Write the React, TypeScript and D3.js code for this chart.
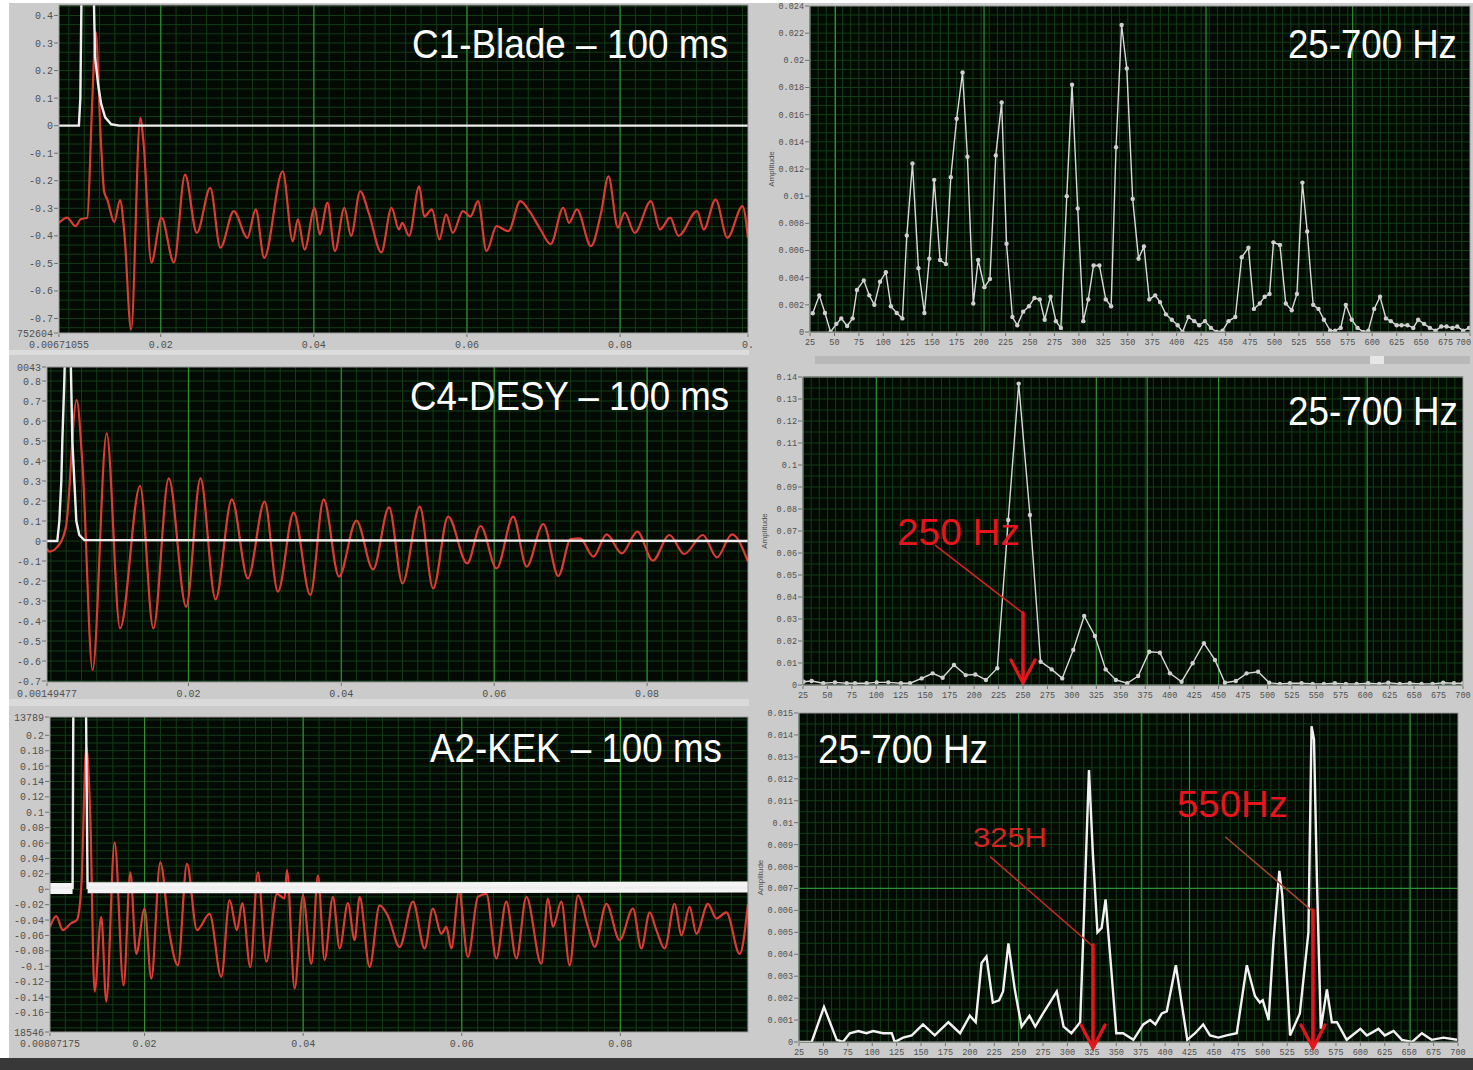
import * as d3 from 'd3';
import type { ReactNode } from 'react';

type Pt = [number, number];
type Tick = [number, string];

// ---------- time traces (s, V) ----------
const c1Trigger: Pt[] = [
  [0.00671, 0], [0.00931, 0], [0.0095, 0.1], [0.0097, 0.6], [0.01116, 0.6], [0.01142, 0.25],
  [0.01182, 0.15], [0.01221, 0.08], [0.01274, 0.03], [0.01353, 0.005], [0.01459, 0], [0.0967, 0],
];
const c1Response: Pt[] = [
  [0.00671, -0.353], [0.00776, -0.334], [0.00887, -0.365], [0.00953, -0.34], [0.0104, -0.334],
  [0.01106, 0.094], [0.01151, 0.34], [0.01217, -0.05], [0.01261, -0.24], [0.01304, -0.27],
  [0.01393, -0.35], [0.01468, -0.27], [0.01525, -0.39], [0.01613, -0.74], [0.01732, 0.028],
  [0.01776, -0.063], [0.01877, -0.497], [0.02009, -0.334], [0.02172, -0.497], [0.02317, -0.178],
  [0.02471, -0.389], [0.02647, -0.226], [0.02779, -0.443], [0.02954, -0.31], [0.03131, -0.407],
  [0.03241, -0.304], [0.03351, -0.48], [0.03593, -0.166], [0.03725, -0.42], [0.03791, -0.34],
  [0.03879, -0.45], [0.04011, -0.298], [0.04077, -0.395], [0.04178, -0.28], [0.04275, -0.455],
  [0.04399, -0.298], [0.04486, -0.4], [0.04605, -0.238], [0.04716, -0.316], [0.04882, -0.46],
  [0.05014, -0.298], [0.05112, -0.377], [0.05155, -0.353], [0.05244, -0.4], [0.05376, -0.22],
  [0.05442, -0.33], [0.05542, -0.304], [0.0564, -0.413], [0.05727, -0.322], [0.05815, -0.389],
  [0.05947, -0.31], [0.06044, -0.33], [0.06145, -0.274], [0.06255, -0.455], [0.06387, -0.365],
  [0.06541, -0.383], [0.06696, -0.274], [0.06828, -0.316], [0.0696, -0.377], [0.07092, -0.43],
  [0.07258, -0.298], [0.07333, -0.353], [0.07435, -0.304], [0.0762, -0.437], [0.07752, -0.316],
  [0.07848, -0.184], [0.07971, -0.37], [0.0806, -0.316], [0.08191, -0.389], [0.08403, -0.274],
  [0.08521, -0.377], [0.08654, -0.334], [0.08763, -0.4], [0.09006, -0.31], [0.09093, -0.377],
  [0.09248, -0.268], [0.09402, -0.407], [0.096, -0.292], [0.0967, -0.407],
];

const c4Trigger: Pt[] = [
  [0.00149, 0], [0.00284, 0], [0.00311, 0.1], [0.00337, 0.3], [0.0035, 0.5], [0.00376, 0.8],
  [0.00389, 1.0], [0.00455, 1.0], [0.00481, 0.5], [0.00507, 0.3], [0.00533, 0.1],
  [0.00572, 0.03], [0.00638, 0.005], [0.0932, 0],
];
const c4Response: Pt[] = [
  [0.00149, -0.037], [0.00179, -0.053], [0.00288, -0.028], [0.00398, 0.072], [0.00537, 0.705],
  [0.00615, 0.372], [0.00746, -0.645], [0.0093, 0.538], [0.01105, -0.437], [0.01367, 0.275],
  [0.01541, -0.437], [0.01742, 0.313], [0.0197, -0.328], [0.02157, 0.313], [0.02354, -0.292],
  [0.02567, 0.208], [0.02777, -0.187], [0.02996, 0.197], [0.0317, -0.253], [0.03376, 0.142],
  [0.03594, -0.27], [0.03769, 0.208], [0.03969, -0.178], [0.04197, 0.102], [0.04415, -0.142],
  [0.04624, 0.168], [0.048, -0.212], [0.05026, 0.172], [0.05201, -0.237], [0.05397, 0.122],
  [0.05646, -0.112], [0.05822, 0.075], [0.06031, -0.137], [0.06249, 0.122], [0.06424, -0.128],
  [0.06642, 0.085], [0.06838, -0.175], [0.07001, 0.01], [0.07123, 0.013], [0.07297, -0.078],
  [0.07472, 0.033], [0.07669, -0.062], [0.07873, 0.047], [0.08075, -0.098], [0.08292, 0.03],
  [0.08485, -0.065], [0.0873, 0.03], [0.08913, -0.082], [0.0911, 0.033], [0.0932, -0.103],
];

const a2Trigger: Pt[] = [
  [0.00807, 0.002], [0.01092, 0.002], [0.01104, 0.3], [0.01256, 0.3], [0.01281, 0.002], [0.0961, 0.002],
];
// noisy baseline of the trigger channel, drawn as a wide band
const a2Band: Pt[][] = [
  [[0.00807, 0.001], [0.01092, 0.001]],
  [[0.01281, 0.002], [0.05, 0.002], [0.0961, 0.003]],
];
const a2Response: Pt[] = [
  [0.00807, -0.049], [0.00886, -0.035], [0.00969, -0.053], [0.01075, -0.044], [0.01146, -0.04],
  [0.01202, 0.003], [0.01265, 0.185], [0.01315, 0.094], [0.01369, -0.133], [0.01454, -0.036],
  [0.01517, -0.146], [0.01622, 0.061], [0.01735, -0.125], [0.0182, 0.022], [0.01895, -0.084],
  [0.02, -0.025], [0.02085, -0.116], [0.02198, 0.035], [0.02315, -0.058], [0.0242, -0.099],
  [0.02534, 0.033], [0.0266, -0.053], [0.0282, -0.032], [0.02967, -0.114], [0.03072, -0.014],
  [0.03164, -0.053], [0.03232, -0.018], [0.03333, -0.101], [0.03429, 0.022], [0.03535, -0.094],
  [0.03669, -0.006], [0.03766, -0.012], [0.03795, 0.025], [0.03892, -0.129], [0.03997, -0.008],
  [0.04103, -0.097], [0.04186, 0.018], [0.0427, -0.092], [0.04375, -0.01], [0.0446, -0.077],
  [0.04564, -0.018], [0.04649, -0.066], [0.04712, -0.01], [0.04838, -0.101], [0.04964, -0.021],
  [0.0507, -0.035], [0.05216, -0.075], [0.05384, -0.016], [0.05532, -0.077], [0.05636, -0.025],
  [0.05742, -0.058], [0.05806, -0.049], [0.05869, -0.077], [0.05964, -0.003], [0.06078, -0.088],
  [0.06204, -0.01], [0.0631, -0.006], [0.06436, -0.09], [0.06562, -0.016], [0.06689, -0.09],
  [0.06815, -0.01], [0.07004, -0.097], [0.07087, -0.012], [0.0715, -0.049], [0.07256, -0.016],
  [0.07361, -0.099], [0.07465, -0.008], [0.07592, -0.049], [0.07676, -0.075], [0.07824, -0.019],
  [0.07991, -0.066], [0.08159, -0.025], [0.08265, -0.077], [0.0837, -0.03], [0.08454, -0.053],
  [0.08559, -0.077], [0.08685, -0.019], [0.0877, -0.06], [0.08874, -0.023], [0.08959, -0.058],
  [0.09105, -0.019], [0.09211, -0.038], [0.09337, -0.03], [0.09505, -0.084], [0.0961, -0.019],
];

// ---------- spectra (Hz, amplitude) ----------
const c1Spectrum: Pt[] = [
  [27.8, 0.00138], [34.5, 0.0027], [40.3, 0.0014], [46, 0], [52, 0.0006], [57, 0.001], [63, 0.00044],
  [68.6, 0.001], [73, 0.0031], [80, 0.0038], [85.6, 0.0027], [90.8, 0.002], [96.6, 0.0037],
  [102.6, 0.0044], [107.7, 0.0019], [113.7, 0.0014], [119.5, 0.001], [124, 0.0071], [129.8, 0.0124],
  [135.9, 0.0047], [142, 0.0014], [147, 0.0054], [152, 0.0112], [158, 0.0053], [164, 0.005],
  [169, 0.0114], [175, 0.0157], [181, 0.0191], [186, 0.0129], [192, 0.0021], [197, 0.0053],
  [203.4, 0.0033], [209, 0.0039], [215, 0.013], [221, 0.0169], [226, 0.0065], [232, 0.0011],
  [237, 0.0005], [243, 0.0015], [249, 0.0019], [254.5, 0.0025], [260, 0.0024], [265, 0.0009],
  [271, 0.0026], [276.5, 0.0008], [281.6, 0.0003], [287.6, 0.01], [293, 0.0182], [298.8, 0.0091],
  [304.5, 0.0008], [309.6, 0.0024], [315, 0.0049], [321, 0.0049], [327.5, 0.0024], [333, 0.0019],
  [338, 0.0136], [343.7, 0.0226], [349, 0.0194], [355, 0.0098], [361, 0.0054], [366.5, 0.0063],
  [372, 0.0024], [378, 0.0027], [383, 0.0022], [389, 0.0013], [395, 0.0009], [401, 0.0005],
  [406, 0], [412, 0.0011], [418, 0.0008], [423, 0.0005], [429, 0.0008], [435, 0.0003], [441, 0],
  [447, 0.0001], [453, 0.0008], [460, 0.0011], [466.5, 0.0055], [473.4, 0.0062], [479, 0.0017],
  [485, 0.0021], [490, 0.0026], [495, 0.0028], [499, 0.0066], [505.6, 0.0064], [511.6, 0.0021],
  [517.7, 0.0016], [523, 0.0028], [528.6, 0.011], [533.5, 0.0074], [539.6, 0.002], [545, 0.0017],
  [550.6, 0.0009], [557, 0.0001], [562, 0.0001], [567.8, 0.0003], [573, 0.002], [579, 0.0009],
  [585, 0.0003], [591, 0], [596, 0.0001], [602, 0.0017], [608, 0.0026], [614, 0.001], [619, 0.0008],
  [625, 0.0005], [630, 0.0005], [636, 0.0005], [642, 0.0003], [647, 0.0009], [653, 0.0006],
  [659, 0.0003], [664.8, 0.0001], [670.6, 0.0004], [676, 0.0004], [682, 0.0003], [687, 0.0004],
  [693, 0.0001], [699, 0.0003],
];

const c4Spectrum: Pt[] = [
  [25.5, 0.0015], [33.9, 0.0018], [45.8, 0.0008], [57.7, 0.0012], [69.7, 0.0008], [78.2, 0.0008],
  [90.1, 0.0008], [100.4, 0.0012], [112.2, 0.0012], [125.2, 0.0008], [134.4, 0.0008], [146.4, 0.003],
  [157.6, 0.0053], [167.8, 0.0033], [179.4, 0.0091], [191.4, 0.0045], [201.2, 0.0048],
  [212.1, 0.0023], [223.7, 0.0076], [234.9, 0.075], [245.6, 0.137], [257.1, 0.0773], [268, 0.0106],
  [279.3, 0.0071], [290.1, 0.003], [301.4, 0.0159], [312.6, 0.0314], [323.6, 0.0223],
  [334.5, 0.0071], [345, 0.0023], [356.6, 0.0008], [367.8, 0.0041], [379.1, 0.0151], [390, 0.0147],
  [400.3, 0.0053], [412.2, 0.0015], [423.5, 0.0099], [435, 0.019], [446.3, 0.0114], [456.5, 0.001],
  [467.7, 0.0018], [478.7, 0.0053], [490.5, 0.006], [501.8, 0.001], [512.7, 0.0005], [523, 0.0008],
  [534.9, 0.0008], [546.2, 0.0005], [557.7, 0.0005], [569, 0.0008], [580.2, 0.0005], [591.2, 0.0005],
  [603, 0.0008], [614.3, 0.0005], [623.5, 0.001], [635.4, 0.0005], [645.6, 0.0008], [657.6, 0.0005],
  [668.9, 0.0005], [679.7, 0.001], [690.7, 0.0008], [700, 0.0008],
];

const a2Spectrum: Pt[] = [
  [25, 0], [38, 0], [50.6, 0.0016], [63.6, 0.0001], [70, 0], [77, 0.0004], [85.8, 0.0005], [94, 0.0004],
  [101, 0.0005], [111, 0.0004], [120, 0.0004], [123, 0], [131.6, 0.0002], [140.5, 0.0003],
  [152, 0.0008], [164, 0.0003], [178, 0.0009], [190, 0.0004], [200, 0.0012], [206, 0.0009],
  [212, 0.0036], [217, 0.0039], [223.5, 0.0018], [230, 0.0019], [234, 0.0023], [239.5, 0.0045],
  [246, 0.0024], [253, 0.0007], [261, 0.0012], [267, 0.0007], [275, 0.0013], [289, 0.0023],
  [296, 0.0007], [304, 0.0004], [313, 0.0009], [316, 0.0046], [322, 0.0124], [326, 0.0086],
  [330.7, 0.005], [335, 0.0052], [339, 0.0065], [343.6, 0.004], [350, 0.0004], [357, 0.0004],
  [367.5, 0.0001], [377.7, 0.0008], [384.6, 0.001], [390, 0.0008], [396.6, 0.0013], [401.7, 0.0014],
  [411, 0.0035], [422.7, 0.0001], [430.7, 0.0004], [439, 0.0008], [446, 0.0003], [454.6, 0.0002],
  [463, 0.0003], [473.4, 0.0004], [483.7, 0.0035], [492, 0.0021], [497, 0.0018], [500, 0.0019],
  [506, 0.001], [511, 0.0046], [517, 0.0078], [520, 0.0067], [523, 0.0044], [528, 0.0003],
  [538, 0.0013], [546.8, 0.005], [550, 0.0144], [552.5, 0.0138], [555.5, 0.0074], [559.5, 0.0006],
  [565.7, 0.0024], [570.8, 0.0009], [576, 0.0009], [586, 0.0001], [600, 0.0006], [606.6, 0.0003],
  [618.5, 0.0006], [625, 0.0003], [634, 0.0005], [642.5, 0.0001], [653, 0], [663, 0.0004],
  [673, 0.0001], [685, 0.0002], [699, 0.0001],
];

// ---------- axes ----------
const freqTicks = [25, 50, 75, 100, 125, 150, 175, 200, 225, 250, 275, 300, 325, 350, 375, 400, 425,
  450, 475, 500, 525, 550, 575, 600, 625, 650, 675, 700];
const c1XTicks: Tick[] = [[0.00671055, '0.00671055'], [0.02, '0.02'], [0.04, '0.04'], [0.06, '0.06'], [0.08, '0.08'], [0.09671055, '0.']];
const c4XTicks: Tick[] = [[0.00149477, '0.00149477'], [0.02, '0.02'], [0.04, '0.04'], [0.06, '0.06'], [0.08, '0.08']];
const a2XTicks: Tick[] = [[0.00807175, '0.00807175'], [0.02, '0.02'], [0.04, '0.04'], [0.06, '0.06'], [0.08, '0.08']];
const c1YTicks = [0.4, 0.3, 0.2, 0.1, 0, -0.1, -0.2, -0.3, -0.4, -0.5, -0.6, -0.7];
const c4YTicks = [0.8, 0.7, 0.6, 0.5, 0.4, 0.3, 0.2, 0.1, 0, -0.1, -0.2, -0.3, -0.4, -0.5, -0.6, -0.7];
const a2YTicks = [0.2, 0.18, 0.16, 0.14, 0.12, 0.1, 0.08, 0.06, 0.04, 0.02, 0, -0.02, -0.04, -0.06, -0.08, -0.1, -0.12, -0.14, -0.16];
const c1SpecYTicks = [0.024, 0.022, 0.02, 0.018, 0.016, 0.014, 0.012, 0.01, 0.008, 0.006, 0.004, 0.002, 0];
const c4SpecYTicks = [0.14, 0.13, 0.12, 0.11, 0.1, 0.09, 0.08, 0.07, 0.06, 0.05, 0.04, 0.03, 0.02, 0.01, 0];
const a2SpecYTicks = [0.015, 0.014, 0.013, 0.012, 0.011, 0.01, 0.009, 0.008, 0.007, 0.006, 0.005, 0.004, 0.003, 0.002, 0.001, 0];
// end-of-scale labels, only the visible tail of them shows in the frame
const c1YEdge: Tick[] = [[-0.752604, '752604']];
const c4YEdge: Tick[] = [[0.87, '0043']];
const a2YEdge: Tick[] = [[-0.18546, '18546'], [0.223789, '13789']];

interface Frame { left: number; top: number; right: number; bottom: number }
interface PanelDef {
  id: string;
  frame: Frame;
  xDomain: [number, number];
  yDomain: [number, number];
  xTicks: Tick[];
  yTicks: Tick[];
  xMinor: number;
  yMinor: number;
  xMajor: number[];
  yMajor: number[];
  tickFont: number;
}

const fmt = (v: number) => String(+v.toFixed(4));
const ticks = (vals: number[]): Tick[] => vals.map(v => [v, fmt(v)]);

const panels: Record<string, PanelDef> = {
  c1: {
    id: 'c1', frame: { left: 59, top: 5, right: 748, bottom: 333 },
    xDomain: [0.00671055, 0.09671055], yDomain: [-0.752604, 0.438],
    xTicks: c1XTicks, yTicks: [...ticks(c1YTicks), ...c1YEdge],
    xMinor: 0.002, yMinor: 0.1 / 3, xMajor: [0.02, 0.04, 0.06, 0.08], yMajor: [], tickFont: 10,
  },
  c4: {
    id: 'c4', frame: { left: 47, top: 367, right: 748, bottom: 682 },
    xDomain: [0.00149477, 0.0932], yDomain: [-0.705, 0.87],
    xTicks: c4XTicks, yTicks: [...ticks(c4YTicks), ...c4YEdge],
    xMinor: 0.002, yMinor: 0.05, xMajor: [0.02, 0.04, 0.06, 0.08], yMajor: [], tickFont: 10,
  },
  a2: {
    id: 'a2', frame: { left: 50, top: 717, right: 748, bottom: 1032 },
    xDomain: [0.00807175, 0.0961], yDomain: [-0.18546, 0.223789],
    xTicks: a2XTicks, yTicks: [...ticks(a2YTicks), ...a2YEdge],
    xMinor: 0.002, yMinor: 0.01, xMajor: [0.02, 0.04, 0.06, 0.08], yMajor: [], tickFont: 10,
  },
  s1: {
    id: 's1', frame: { left: 810, top: 6, right: 1470, bottom: 332 },
    xDomain: [25, 700], yDomain: [0, 0.024],
    xTicks: ticks(freqTicks), yTicks: ticks(c1SpecYTicks),
    xMinor: 25 / 3, yMinor: 0.002 / 3, xMajor: [51, 203, 430, 580], yMajor: [], tickFont: 8.5,
  },
  s4: {
    id: 's4', frame: { left: 803, top: 377, right: 1463, bottom: 685 },
    xDomain: [25, 700], yDomain: [0, 0.14],
    xTicks: ticks(freqTicks), yTicks: ticks(c4SpecYTicks),
    xMinor: 25 / 3, yMinor: 0.005, xMajor: [100, 325, 377, 450, 602], yMajor: [], tickFont: 8.5,
  },
  s2: {
    id: 's2', frame: { left: 799, top: 713, right: 1458, bottom: 1042 },
    xDomain: [25, 700], yDomain: [0, 0.015],
    xTicks: ticks(freqTicks), yTicks: ticks(a2SpecYTicks),
    xMinor: 25 / 3, yMinor: 0.0005, xMajor: [250, 376, 425, 651], yMajor: [0.007], tickFont: 8.5,
  },
};

type Sc = d3.ScaleLinear<number, number>;

function Panel({ def, children }: { def: PanelDef; children: (x: Sc, y: Sc) => ReactNode }) {
  const f = def.frame;
  const x = d3.scaleLinear().domain(def.xDomain).range([f.left, f.right]);
  const y = d3.scaleLinear().domain(def.yDomain).range([f.bottom, f.top]);
  const xm = d3.range(Math.ceil(def.xDomain[0] / def.xMinor) * def.xMinor, def.xDomain[1], def.xMinor);
  const ym = d3.range(Math.ceil(def.yDomain[0] / def.yMinor) * def.yMinor, def.yDomain[1], def.yMinor);
  const isTime = def.tickFont === 10;
  const charW = def.tickFont * 0.6;
  return (
    <g>
      <defs>
        <clipPath id={def.id + '-clip'}>
          <rect x={f.left} y={f.top} width={f.right - f.left} height={f.bottom - f.top} />
        </clipPath>
      </defs>
      <rect x={f.left} y={f.top} width={f.right - f.left} height={f.bottom - f.top} fill="#020a03" />
      <g stroke="#123d16" strokeWidth={1}>
        {xm.map((v, i) => <line key={'x' + i} x1={x(v)} x2={x(v)} y1={f.top} y2={f.bottom} />)}
        {ym.map((v, i) => <line key={'y' + i} x1={f.left} x2={f.right} y1={y(v)} y2={y(v)} />)}
      </g>
      <g stroke="#2f8f33" strokeWidth={1.2}>
        {def.xMajor.map((v, i) => <line key={'X' + i} x1={x(v)} x2={x(v)} y1={f.top} y2={f.bottom} />)}
        {def.yMajor.map((v, i) => <line key={'Y' + i} x1={f.left} x2={f.right} y1={y(v)} y2={y(v)} />)}
      </g>
      <g clipPath={`url(#${def.id}-clip)`}>{children(x, y)}</g>
      <rect x={f.left} y={f.top} width={f.right - f.left} height={f.bottom - f.top}
        fill="none" stroke="#9a9a9a" strokeWidth={1} />
      <g fontFamily="'Liberation Mono', monospace" fontSize={def.tickFont} fill="#505050">
        {def.yTicks.map(([v, l], i) => (
          <g key={'yt' + i}>
            <line x1={f.left - 5} x2={f.left - 1} y1={y(v)} y2={y(v)} stroke="#707070" />
            <text x={f.left - 6} y={y(v)} dy="0.35em" textAnchor="end">{l}</text>
          </g>
        ))}
        {def.xTicks.map(([v, l], i) => {
          const half = (l.length * charW) / 2;
          const overflow = x(v) + half > 1471;
          return (
            <g key={'xt' + i}>
              <line x1={x(v)} x2={x(v)} y1={f.bottom + 1} y2={f.bottom + 4} stroke="#707070" />
              <text x={overflow ? 1471 : x(v)} y={f.bottom + (isTime ? 15 : 13)}
                textAnchor={overflow ? 'end' : 'middle'}>{l}</text>
            </g>
          );
        })}
      </g>
      {!isTime && (
        <text transform={`translate(${f.left - 36},${(f.top + f.bottom) / 2}) rotate(-90)`}
          fontFamily="'Liberation Sans', sans-serif" fontSize={8} fill="#505050" textAnchor="middle">
          Amplitude
        </text>
      )}
    </g>
  );
}

const smooth = (x: Sc, y: Sc) => d3.line<Pt>().x(d => x(d[0])).y(d => y(d[1])).curve(d3.curveMonotoneX);
const straight = (x: Sc, y: Sc) => d3.line<Pt>().x(d => x(d[0])).y(d => y(d[1]));

const RED = '#de3b34';
const WHITE = '#eeeeee';
const TITLE_FONT = "'Liberation Sans', Arial, sans-serif";

// natural text width, used to squeeze the titles horizontally like the source screenshot
const measureCtx = document.createElement('canvas').getContext('2d');
function naturalWidth(text: string, size: number) {
  if (!measureCtx) return text.length * size * 0.55;
  measureCtx.font = `${size}px ${TITLE_FONT}`;
  return measureCtx.measureText(text).width;
}

function Title({ x, y, w, text, size = 41, fill = '#ffffff' }: { x: number; y: number; w: number; text: string; size?: number; fill?: string }) {
  const sx = w / naturalWidth(text, size);
  return (
    <text transform={`translate(${x},${y}) scale(${sx},1)`} fontFamily={TITLE_FONT} fontSize={size} fill={fill}>
      {text}
    </text>
  );
}

function Arrow({ x, yTop, yTip, color }: { x: number; yTop: number; yTip: number; color: string }) {
  return (
    <g stroke={color} fill="none" strokeLinecap="round">
      <line x1={x} x2={x} y1={yTop} y2={yTip - 2} strokeWidth={3.5} />
      <polyline points={`${x - 12},${yTip - 23} ${x},${yTip} ${x + 12},${yTip - 23}`} strokeWidth={3.2} />
    </g>
  );
}

export default function App() {
  return (
    <svg width={1473} height={1070} style={{ position: 'absolute', left: 0, top: 0, display: 'block' }}>
      <rect width={1473} height={1070} fill="#ffffff" />
      <rect x={9} y={3} width={1464} height={1056} fill="#cbcbcb" />
      <rect x={9} y={350} width={740} height={5} fill="#dcdcdc" />
      <rect x={9} y={699} width={740} height={7} fill="#dadada" />
      <rect x={815} y={356} width={655} height={8} fill="#b8b8b8" />
      <rect x={1370} y={356} width={14} height={8} fill="#e6e6e6" />
      <rect x={0} y={1058} width={1473} height={12} fill="#383838" />

      <Panel def={panels.c1}>
        {(x, y) => (
          <g fill="none">
            <path d={smooth(x, y)(c1Response) ?? ''} stroke={RED} strokeWidth={2.2} />
            <path d={straight(x, y)(c1Trigger) ?? ''} stroke={WHITE} strokeWidth={2.4} />
          </g>
        )}
      </Panel>
      <Panel def={panels.c4}>
        {(x, y) => (
          <g fill="none">
            <path d={smooth(x, y)(c4Response) ?? ''} stroke={RED} strokeWidth={2.2} />
            <path d={straight(x, y)(c4Trigger) ?? ''} stroke={WHITE} strokeWidth={2.4} />
          </g>
        )}
      </Panel>
      <Panel def={panels.a2}>
        {(x, y) => (
          <g fill="none">
            <path d={smooth(x, y)(a2Response) ?? ''} stroke={RED} strokeWidth={2.2} />
            {a2Band.map((seg, i) => (
              <path key={i} d={straight(x, y)(seg) ?? ''} stroke="#f4f4f4" strokeWidth={11} />
            ))}
            <path d={straight(x, y)(a2Trigger) ?? ''} stroke={WHITE} strokeWidth={2.4} />
          </g>
        )}
      </Panel>
      <Panel def={panels.s1}>
        {(x, y) => (
          <g>
            <path d={straight(x, y)(c1Spectrum) ?? ''} fill="none" stroke="#d9d9d9" strokeWidth={1.4} />
            {c1Spectrum.map((d, i) => <circle key={i} cx={x(d[0])} cy={y(d[1])} r={2.2} fill="#cfcfcf" />)}
          </g>
        )}
      </Panel>
      <Panel def={panels.s4}>
        {(x, y) => (
          <g>
            <path d={straight(x, y)(c4Spectrum) ?? ''} fill="none" stroke="#d9d9d9" strokeWidth={1.4} />
            {c4Spectrum.map((d, i) => <circle key={i} cx={x(d[0])} cy={y(d[1])} r={2.2} fill="#cfcfcf" />)}
            <line x1={x(160)} y1={y(0.0636)} x2={x(250)} y2={y(0.0327)} stroke="#d8231f" strokeWidth={1.5} />
            <Arrow x={x(250)} yTop={y(0.0327)} yTip={y(0) - 2} color="#e3171b" />
          </g>
        )}
      </Panel>
      <Panel def={panels.s2}>
        {(x, y) => (
          <g>
            <path d={straight(x, y)(a2Spectrum) ?? ''} fill="none" stroke="#f2f2f2" strokeWidth={2.4} />
            <line x1={x(220.7)} y1={y(0.00845)} x2={x(325)} y2={y(0.0044)} stroke="#c92b22" strokeWidth={1.5} />
            <line x1={x(461.5)} y1={y(0.00936)} x2={x(550)} y2={y(0.006)} stroke="#a8482a" strokeWidth={1.5} />
          </g>
        )}
      </Panel>

      {/* annotation arrows that run past the spectrum frame */}
      <g>
        <Arrow x={1093} yTop={945} yTip={1048} color="#e3171b" />
        <Arrow x={1313} yTop={910} yTip={1048} color="#e3171b" />
      </g>

      <Title x={412} y={58} w={316} text="C1-Blade – 100 ms" />
      <Title x={410} y={410} w={320} text="C4-DESY – 100 ms" />
      <Title x={430} y={762} w={292} text="A2-KEK – 100 ms" />
      <Title x={1288} y={58} w={169} text="25-700 Hz" />
      <Title x={1288} y={425} w={170} text="25-700 Hz" />
      <Title x={818} y={763} w={170} text="25-700 Hz" />
      <Title x={897} y={545} w={123} text="250 Hz" size={37} fill="#e8141c" />
      <Title x={973} y={847} w={74} text="325H" size={27} fill="#d42424" />
      <Title x={1177} y={817} w={111} text="550Hz" size={37} fill="#e8141c" />
    </svg>
  );
}
